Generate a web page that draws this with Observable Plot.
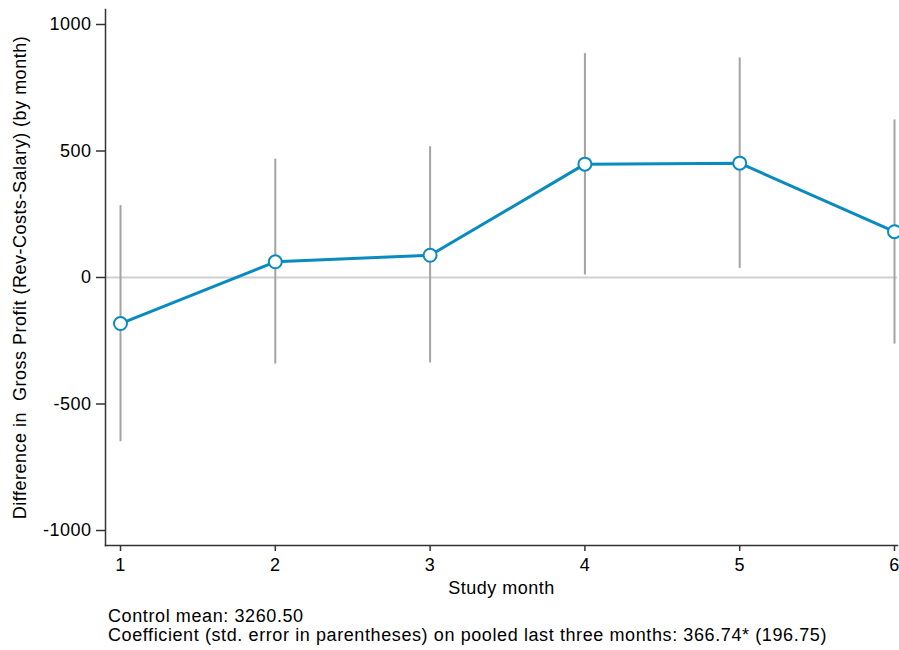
<!DOCTYPE html>
<html>
<head>
<meta charset="utf-8">
<script src="https://cdn.jsdelivr.net/npm/d3@7"></script>
<script src="https://cdn.jsdelivr.net/npm/@observablehq/plot@0.6"></script>
<style>
  body { margin: 0; background: #fff; font-family: "Liberation Sans", Arial, Helvetica, sans-serif; }
  #chart { position: relative; width: 899px; height: 650px; }
  #chart svg text { letter-spacing: 0.5px; }
  #caption { position: absolute; left: 108px; top: 607px; font-size: 18px; line-height: 19px; letter-spacing: 0.6px; color: #000; white-space: nowrap; }
</style>
</head>
<body>
<div id="chart"></div>
<script>
const months = [1, 2, 3, 4, 5, 6];
const estimates = [-182, 62, 88, 448, 452, 181];
const ciLow = [-649, -342, -338, 10, 36, -263];
const ciHigh = [284, 468, 517, 885, 868, 623];
const yTicks = [-1000, -500, 0, 500, 1000];
const xTicks = [1, 2, 3, 4, 5, 6];
const yLabel = "Difference in  Gross Profit (Rev-Costs-Salary) (by month)";
const xLabel = "Study month";
const captionLines = [
  "Control mean: 3260.50",
  "Coefficient (std. error in parentheses) on pooled last three months: 366.74* (196.75)"
];

const data = months.map((m, i) => ({month: m, est: estimates[i], lo: ciLow[i], hi: ciHigh[i]}));
const blue = "#0a8bc0";

const plot = Plot.plot({
  width: 899,
  height: 600,
  marginLeft: 105,
  marginRight: 2,
  marginTop: 9,
  marginBottom: 55,
  style: {fontFamily: '"Liberation Sans", Arial, Helvetica, sans-serif', fontSize: "18px", color: "#000", background: "#fff"},
  x: {domain: [1, 6], range: [120, 894]},
  y: {domain: [-1000, 1000], range: [530, 24]},
  marks: [
    Plot.ruleY([0], {stroke: "#d0d0d0", strokeWidth: 2}),
    Plot.ruleX(data, {x: "month", y1: "lo", y2: "hi", stroke: "#a3a3a3", strokeWidth: 2}),
    Plot.line(data, {x: "month", y: "est", stroke: blue, strokeWidth: 3}),
    Plot.dot(data, {x: "month", y: "est", r: 6.5, fill: "#fff", stroke: blue, strokeWidth: 2}),
    Plot.frame({anchor: "left", stroke: "#333", strokeWidth: 1.5}),
    Plot.frame({anchor: "bottom", stroke: "#333", strokeWidth: 1.5}),
    Plot.axisY({ticks: yTicks, tickSize: 9, tickPadding: 5, tickFormat: d => String(d), label: null, fontSize: 18, stroke: "#333", strokeWidth: 1.5}),
    Plot.axisX({ticks: xTicks, tickSize: 6, tickPadding: 7, tickFormat: d => String(d), label: null, fontSize: 18, stroke: "#333", strokeWidth: 1.5}),
    Plot.text([xLabel], {frameAnchor: "bottom", dy: 48, fontSize: 18, text: d => d}),
    Plot.text([yLabel], {frameAnchor: "left", dx: -85, rotate: -90, textAnchor: "middle", fontSize: 18, text: d => d})
  ]
});
document.getElementById("chart").appendChild(plot);

const cap = document.createElement("div");
cap.id = "caption";
cap.innerHTML = captionLines.map(s => `<div>${s}</div>`).join("");
document.getElementById("chart").appendChild(cap);
</script>
</body>
</html>
